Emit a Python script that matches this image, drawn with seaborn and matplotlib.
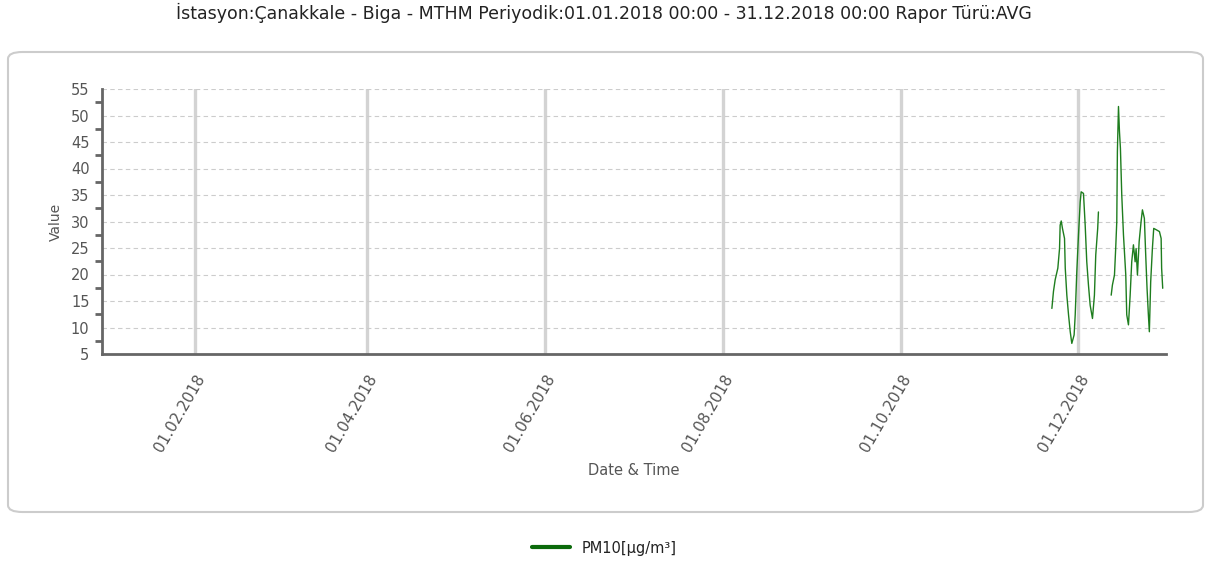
import matplotlib
matplotlib.use("Agg")
import matplotlib.pyplot as plt
import matplotlib.dates as mdates
from matplotlib.patches import FancyBboxPatch
import seaborn as sns
import pandas as pd
import numpy as np

# PM10 readings, Biga station
times_a = ["2018-11-21 21:00", "2018-11-22 10:00", "2018-11-23 00:00", "2018-11-23 22:00",
           "2018-11-24 12:00", "2018-11-24 17:00", "2018-11-25 02:00", "2018-11-25 12:00",
           "2018-11-26 05:00", "2018-11-26 11:00", "2018-11-27 00:00", "2018-11-27 14:00",
           "2018-11-28 04:00", "2018-11-28 17:00", "2018-11-29 12:00", "2018-11-29 21:00",
           "2018-11-30 10:00", "2018-12-01 00:00", "2018-12-01 14:00", "2018-12-01 22:00",
           "2018-12-02 17:00", "2018-12-03 07:00", "2018-12-03 20:00", "2018-12-04 10:00",
           "2018-12-05 00:00", "2018-12-05 19:00", "2018-12-06 11:00", "2018-12-06 22:00",
           "2018-12-07 14:00", "2018-12-07 20:00"]
pm10_a = [13.6, 16.8, 19.0, 21.2, 24.9, 29.3, 30.1, 28.7, 26.8, 21.2,
          16.1, 12.4, 9.2, 7.0, 8.6, 12.4, 20.5, 27.5, 33.7, 35.6,
          35.3, 29.3, 22.4, 18.0, 14.2, 11.7, 16.1, 23.7, 28.7, 31.8]

times_b = ["2018-12-12 05:00", "2018-12-12 15:00", "2018-12-13 08:00", "2018-12-13 18:00",
           "2018-12-14 03:00", "2018-12-14 08:00", "2018-12-14 17:00", "2018-12-15 01:00",
           "2018-12-15 09:00", "2018-12-15 20:00", "2018-12-16 10:00", "2018-12-17 05:00",
           "2018-12-17 13:00", "2018-12-18 03:00", "2018-12-18 17:00", "2018-12-19 06:00",
           "2018-12-19 20:00", "2018-12-20 10:00", "2018-12-20 18:00", "2018-12-21 05:00",
           "2018-12-21 19:00", "2018-12-22 11:00", "2018-12-22 22:00", "2018-12-23 14:00",
           "2018-12-24 01:00", "2018-12-24 12:00", "2018-12-24 23:00", "2018-12-25 07:00",
           "2018-12-25 18:00", "2018-12-26 08:00", "2018-12-26 19:00", "2018-12-27 19:00",
           "2018-12-28 18:00", "2018-12-29 08:00", "2018-12-29 12:00", "2018-12-29 21:00"]
pm10_b = [16.1, 18.0, 19.9, 24.9, 30.0, 43.2, 51.7, 47.0, 43.8, 35.0,
          27.5, 19.9, 12.4, 10.5, 16.1, 22.4, 25.6, 22.4, 24.9, 19.9,
          26.2, 30.0, 32.2, 30.6, 23.7, 17.4, 12.4, 9.2, 18.6, 24.9,
          28.7, 28.4, 28.1, 26.8, 21.2, 17.4]

title = "İstasyon:Çanakkale - Biga - MTHM Periyodik:01.01.2018 00:00 - 31.12.2018 00:00 Rapor Türü:AVG"
series_name = "PM10[µg/m³]"

df = pd.concat([
    pd.DataFrame({"time": pd.to_datetime(times_a), "value": pm10_a, "part": 0}),
    pd.DataFrame({"time": pd.to_datetime(times_b), "value": pm10_b, "part": 1}),
])

sns.set_style("white")
plt.rcParams['font.family'] = ['DejaVu Sans']

axis_col = "#666666"
text_col = "#555555"

fig = plt.figure(figsize=(12.08, 5.66), dpi=100)
ax = fig.add_axes([102 / 1208, 1 - 354 / 566, 1064 / 1208, 265 / 566])

# rounded frame around the plot
frame = FancyBboxPatch((8 / 1208, 1 - 512 / 566), 1195 / 1208, 460 / 566,
                       boxstyle="round,pad=0,rounding_size=0.012",
                       transform=fig.transFigure, facecolor="white",
                       edgecolor="#cccccc", linewidth=1.5, zorder=-10)
fig.patches.append(frame)
ax.set_facecolor("none")

sns.lineplot(data=df, x="time", y="value", units="part", estimator=None,
             color="#1e7d1e", linewidth=1.0, ax=ax, legend=False)

ax.set_xlim(pd.Timestamp("2017-12-31 05:00"), pd.Timestamp("2018-12-31"))
ax.set_ylim(5, 55)
ax.set_yticks(np.arange(5, 56, 5))
ax.set_yticks(np.arange(7.5, 55, 5), minor=True)

ax.xaxis.set_major_locator(mdates.MonthLocator(bymonth=[2, 4, 6, 8, 10, 12]))
ax.xaxis.set_major_formatter(mdates.DateFormatter("%d.%m.%Y"))

ax.grid(axis="y", color="#cccccc", linestyle=(0, (4, 3)), linewidth=0.8)
ax.grid(axis="x", color="#d3d3d3", linestyle="-", linewidth=2.4)
ax.set_axisbelow(True)

for s in ["top", "right"]:
    ax.spines[s].set_visible(False)
for s in ["left", "bottom"]:
    ax.spines[s].set_color(axis_col)
    ax.spines[s].set_linewidth(2)

ax.tick_params(axis="y", which="major", length=7, width=2, color=axis_col,
               labelsize=10.5, labelcolor=text_col, pad=2)
ax.tick_params(axis="y", which="minor", length=5, width=2, color=axis_col, left=True)
ax.tick_params(axis="x", which="major", length=9, width=2, color=axis_col,
               labelsize=11, labelcolor=text_col, pad=4)
plt.setp(ax.get_xticklabels(), rotation=60, ha="right", rotation_mode="anchor")

ax.set_xlabel("Date & Time", fontsize=10.5, color=text_col, labelpad=6)
ax.set_ylabel("Value", fontsize=10, color=text_col, labelpad=6)

fig.suptitle(title, x=0.5, y=1 - 13 / 566, va="center", fontsize=12.5, color="#222222")

handle = plt.Line2D([], [], color="#0b6a0b", linewidth=3)
fig.legend([handle], [series_name], loc="center", bbox_to_anchor=(0.5, 1 - 548 / 566),
           frameon=False, fontsize=10.5, handlelength=2.6, labelcolor="#222222")

fig.savefig("out.png", dpi=100)
